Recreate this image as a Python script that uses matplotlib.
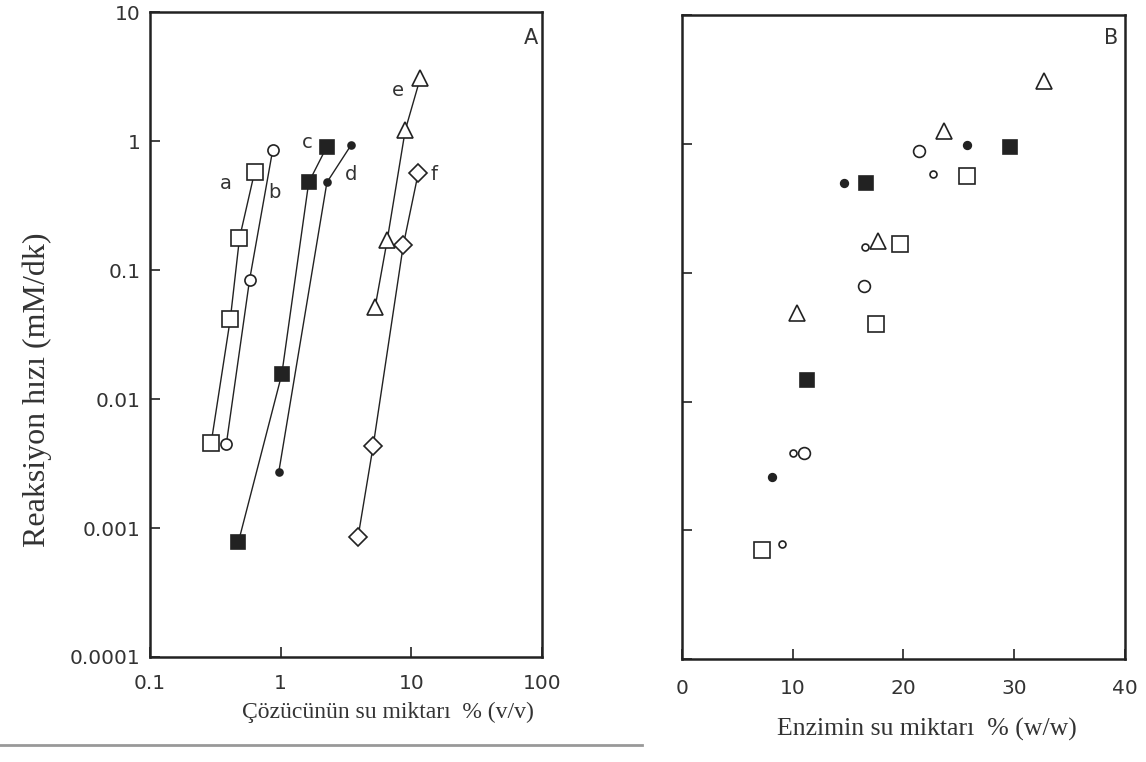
import matplotlib
matplotlib.use("Agg")
import matplotlib.pyplot as plt
from matplotlib.lines import Line2D

# A: reaksiyon hizi vs cozucunun su miktari (log-log), egriler a-f
a_x = [0.294, 0.412, 0.484, 0.631]
a_y = [0.0046, 0.042, 0.177, 0.575]
b_x = [0.384, 0.578, 0.868]
b_y = [0.0045, 0.084, 0.85]
c_x = [0.475, 1.02, 1.64, 2.26]
c_y = [0.00078, 0.0156, 0.48, 0.91]
d_x = [0.966, 2.26, 3.45]
d_y = [0.0027, 0.48, 0.93]
e_x = [5.29, 6.54, 8.99, 11.7]
e_y = [0.052, 0.171, 1.22, 3.08]
f_x = [3.91, 5.1, 8.68, 11.3]
f_y = [0.00085, 0.0043, 0.156, 0.565]

# B: ayni hizlar, enzimin su miktarina karsi
bs_x = [7.2, 17.5, 19.7, 25.7]          # acik kare
bs_y = [0.0007, 0.040, 0.166, 0.56]
bo_x = [11.0, 16.4, 21.4]               # buyuk acik daire
bo_y = [0.004, 0.079, 0.88]
so_x = [9.0, 10.0, 16.5, 22.7]          # kucuk acik daire
so_y = [0.00079, 0.004, 0.16, 0.59]
fs_x = [11.3, 16.6, 29.6]               # dolu kare
fs_y = [0.0148, 0.50, 0.95]
fc_x = [8.1, 14.6, 25.7]                # dolu daire
fc_y = [0.0026, 0.50, 0.98]
tr_x = [10.4, 17.7, 23.7, 32.7]         # ucgen
tr_y = [0.049, 0.178, 1.26, 3.1]

y_ticks = [0.0001, 0.001, 0.01, 0.1, 1, 10]
y_labels = ['0.0001', '0.001', '0.01', '0.1', '1', '10']
xa_ticks = [0.1, 1, 10, 100]
xa_labels = ['0.1', '1', '10', '100']
xb_ticks = [0, 10, 20, 30, 40]
xb_labels = ['0', '10', '20', '30', '40']

ink = '#222222'
yazi = '#333333'
serif = 'Liberation Serif'
sans = 'DejaVu Sans'

fig = plt.figure(figsize=(11.46, 7.62), dpi=100)
fig.patch.set_facecolor('white')
ax1 = fig.add_axes([0.1309, 0.1378, 0.342, 0.846])
ax2 = fig.add_axes([0.595, 0.135, 0.3866, 0.845])

def stil(ax, xpad):
    for s in ax.spines.values():
        s.set_linewidth(1.8)
        s.set_color(ink)
    ax.tick_params(which='major', direction='in', length=7, width=1.2,
                   colors=ink, labelsize=14.5)
    ax.tick_params(axis='x', pad=xpad)
    ax.tick_params(axis='y', pad=7)
    ax.tick_params(which='minor', length=0)
    for t in ax.get_xticklabels() + ax.get_yticklabels():
        t.set_fontfamily(sans)
        t.set_color(yazi)

lk = dict(color=ink, lw=1.0, mec=ink, mew=1.2)
ax1.plot(a_x, a_y, marker='s', ms=11, mfc='white', **lk)
ax1.plot(b_x, b_y, marker='o', ms=8, mfc='white', **lk)
ax1.plot(c_x, c_y, marker='s', ms=10, mfc=ink, **lk)
ax1.plot(d_x, d_y, marker='o', ms=5, mfc=ink, **lk)
ax1.plot(e_x, e_y, marker='^', ms=12, mfc='white', **lk)
ax1.plot(f_x, f_y, marker='D', ms=9.5, mfc='white', **lk)

ax1.set_xscale('log')
ax1.set_yscale('log')
ax1.set_xlim(0.1, 100)
ax1.set_ylim(0.0001, 10)
ax1.set_xticks(xa_ticks)
ax1.set_xticklabels(xa_labels)
ax1.set_yticks(y_ticks)
ax1.set_yticklabels(y_labels)

for txt, x, y in [('a', 0.378, 0.47), ('b', 0.9, 0.40), ('c', 1.61, 0.98),
                  ('d', 3.45, 0.55), ('e', 7.95, 2.48), ('f', 15.0, 0.55)]:
    ax1.text(x, y, txt, fontsize=14, family=sans, color=yazi,
             ha='center', va='center')
ax1.text(0.99, 0.975, 'A', transform=ax1.transAxes, fontsize=15,
         family=sans, color=yazi, ha='right', va='top')

ax1.set_ylabel('Reaksiyon hızı (mM/dk)', family=serif, fontsize=23,
               color=yazi)
ax1.yaxis.set_label_coords(-0.25, 0.414)
ax1.set_xlabel('Çözücünün su miktarı  % (v/v)', family=serif, fontsize=17,
               color=yazi)
ax1.xaxis.set_label_coords(0.607, -0.070)

lk2 = dict(ls='none', mec=ink, mew=1.2)
ax2.plot(bs_x, bs_y, marker='s', ms=11, mfc='white', **lk2)
ax2.plot(bo_x, bo_y, marker='o', ms=8.5, mfc='white', **lk2)
ax2.plot(so_x, so_y, marker='o', ms=5, mfc='white', **lk2)
ax2.plot(fs_x, fs_y, marker='s', ms=10, mfc=ink, **lk2)
ax2.plot(fc_x, fc_y, marker='o', ms=5.5, mfc=ink, **lk2)
ax2.plot(tr_x, tr_y, marker='^', ms=12, mfc='white', **lk2)

ax2.set_yscale('log')
ax2.set_xlim(0, 40)
ax2.set_ylim(0.0001, 10)
ax2.set_xticks(xb_ticks)
ax2.set_xticklabels(xb_labels)
ax2.set_yticks(y_ticks)
ax2.set_yticklabels([])
ax2.text(0.984, 0.98, 'B', transform=ax2.transAxes, fontsize=15,
         family=sans, color=yazi, ha='right', va='top')
ax2.set_xlabel('Enzimin su miktarı  % (w/w)', family=serif, fontsize=18.5,
               color=yazi)
ax2.xaxis.set_label_coords(0.553, -0.092)

stil(ax1, 12)
stil(ax2, 14)

# alt kenardaki ince gri cizgi
fig.add_artist(Line2D([0.0, 0.56], [0.022, 0.022], color='#999999', lw=2))

fig.savefig('out.png', dpi=100, facecolor='white')
